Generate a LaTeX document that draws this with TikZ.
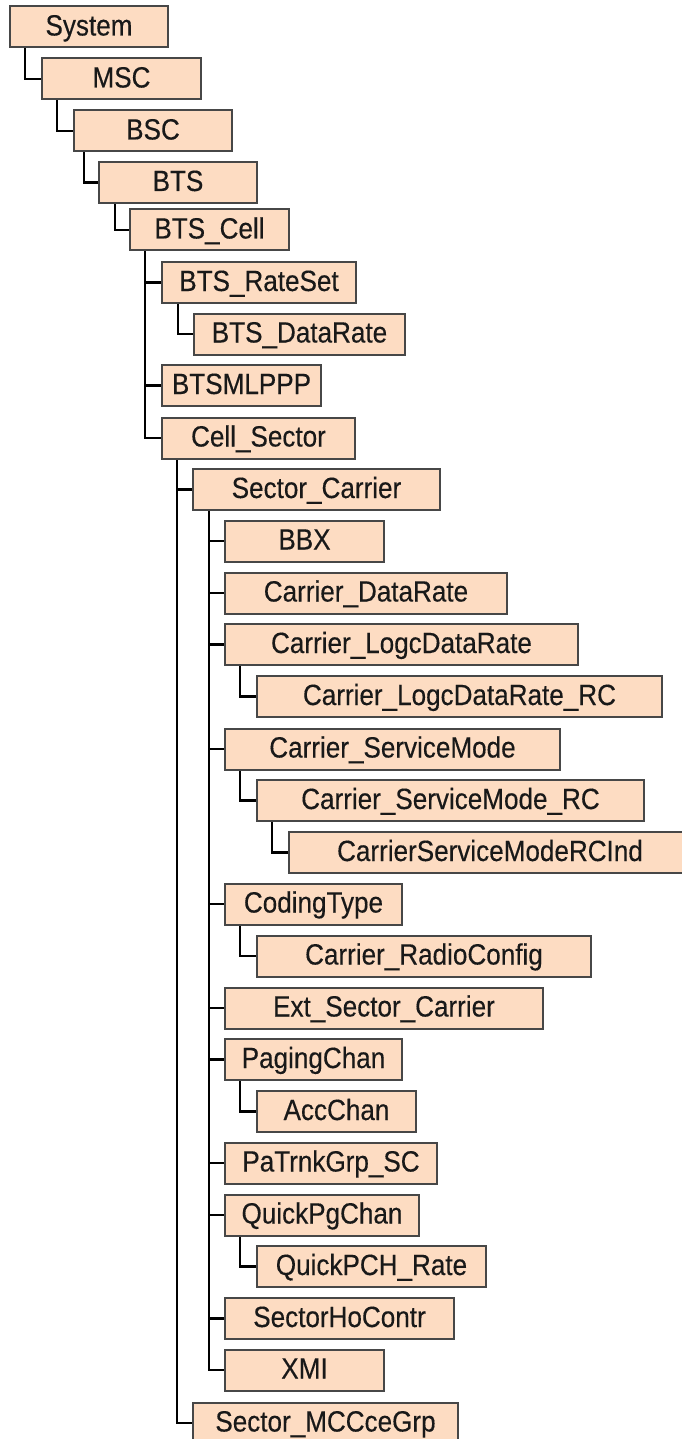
\documentclass[tikz,border=0pt]{standalone}
\usepackage{fontspec}
\setmainfont{Liberation Sans}[FakeStretch=0.89,FakeBold=0.3]
\usetikzlibrary{backgrounds}
\definecolor{boxfill}{HTML}{FDDCC2}
\definecolor{boxedge}{HTML}{474747}
\tikzset{
  objbox/.style={draw=boxedge, line width=2pt, fill=boxfill, inner sep=0pt,
    minimum height=41pt, anchor=west, text height=21pt, text depth=4pt,
    font=\fontsize{29.3}{30}\selectfont, text=black!90},
  link/.style={line width=2.8pt, black}
}
% \objnode{name}{left x}{right x}{centre y}{label}
\newcommand{\objnode}[5]{\node[objbox, minimum width=#3pt-#2pt] (#1) at (#2,#4) {#5};}
% \objlink{parent}{offset of the drop line}{child}
\newcommand{\objlink}[3]{\draw[link] ([xshift=#2pt]#1.south west) |- (#3.west);}
\begin{document}
\begin{tikzpicture}[x=1pt,y=-1pt]
\useasboundingbox (0,0) rectangle (682,1439);
\clip (0,0) rectangle (682,1439);
\objnode{sys}{9}{167}{27}{System}
\objnode{msc}{41}{200}{79}{MSC}
\objnode{bsc}{73}{231}{131}{BSC}
\objnode{bts}{98}{256}{182.5}{BTS}
\objnode{cell}{129}{288}{230}{BTS\_Cell}
\objnode{rset}{161}{355}{282.5}{BTS\_RateSet}
\objnode{drate}{193}{404}{334}{BTS\_DataRate}
\objnode{mlppp}{161}{320}{385.5}{BTSMLPPP}
\objnode{csec}{161}{354}{438}{Cell\_Sector}
\objnode{scar}{192}{439}{489.5}{Sector\_Carrier}
\objnode{bbx}{224}{383}{541}{BBX}
\objnode{cdr}{224}{506}{593}{Carrier\_DataRate}
\objnode{cldr}{224}{577}{644.5}{Carrier\_LogcDataRate}
\objnode{cldrrc}{256}{661}{696.5}{Carrier\_LogcDataRate\_RC}
\objnode{csm}{224}{559}{749}{Carrier\_ServiceMode}
\objnode{csmrc}{256}{643}{800.5}{Carrier\_ServiceMode\_RC}
\objnode{csmind}{288}{690}{852.5}{CarrierServiceModeRCInd}
\objnode{ctype}{224}{401}{904}{CodingType}
\objnode{rconf}{256}{590}{956}{Carrier\_RadioConfig}
\objnode{ext}{224}{542}{1008}{Ext\_Sector\_Carrier}
\objnode{pch}{224}{401}{1059.5}{PagingChan}
\objnode{acc}{256}{415}{1111.5}{AccChan}
\objnode{patg}{224}{436}{1163}{PaTrnkGrp\_SC}
\objnode{qpch}{224}{418}{1215}{QuickPgChan}
\objnode{qrate}{256}{485}{1266.5}{QuickPCH\_Rate}
\objnode{ho}{224}{453}{1318.5}{SectorHoContr}
\objnode{xmi}{224}{383}{1370}{XMI}
\objnode{mcc}{192}{457}{1423}{Sector\_MCCceGrp}
\begin{pgfonlayer}{background}
\objlink{sys}{16}{msc}
\objlink{msc}{16}{bsc}
\objlink{bsc}{11}{bts}
\objlink{bts}{17}{cell}
\objlink{cell}{16}{rset}
\objlink{cell}{16}{mlppp}
\objlink{cell}{16}{csec}
\objlink{rset}{17}{drate}
\objlink{csec}{16}{scar}
\objlink{csec}{16}{mcc}
\objlink{scar}{17}{bbx}
\objlink{scar}{17}{cdr}
\objlink{scar}{17}{cldr}
\objlink{scar}{17}{csm}
\objlink{scar}{17}{ctype}
\objlink{scar}{17}{ext}
\objlink{scar}{17}{pch}
\objlink{scar}{17}{patg}
\objlink{scar}{17}{qpch}
\objlink{scar}{17}{ho}
\objlink{scar}{17}{xmi}
\objlink{cldr}{16}{cldrrc}
\objlink{csm}{16}{csmrc}
\objlink{csmrc}{16}{csmind}
\objlink{ctype}{16}{rconf}
\objlink{pch}{16}{acc}
\objlink{qpch}{16}{qrate}
\end{pgfonlayer}
\end{tikzpicture}
\end{document}
